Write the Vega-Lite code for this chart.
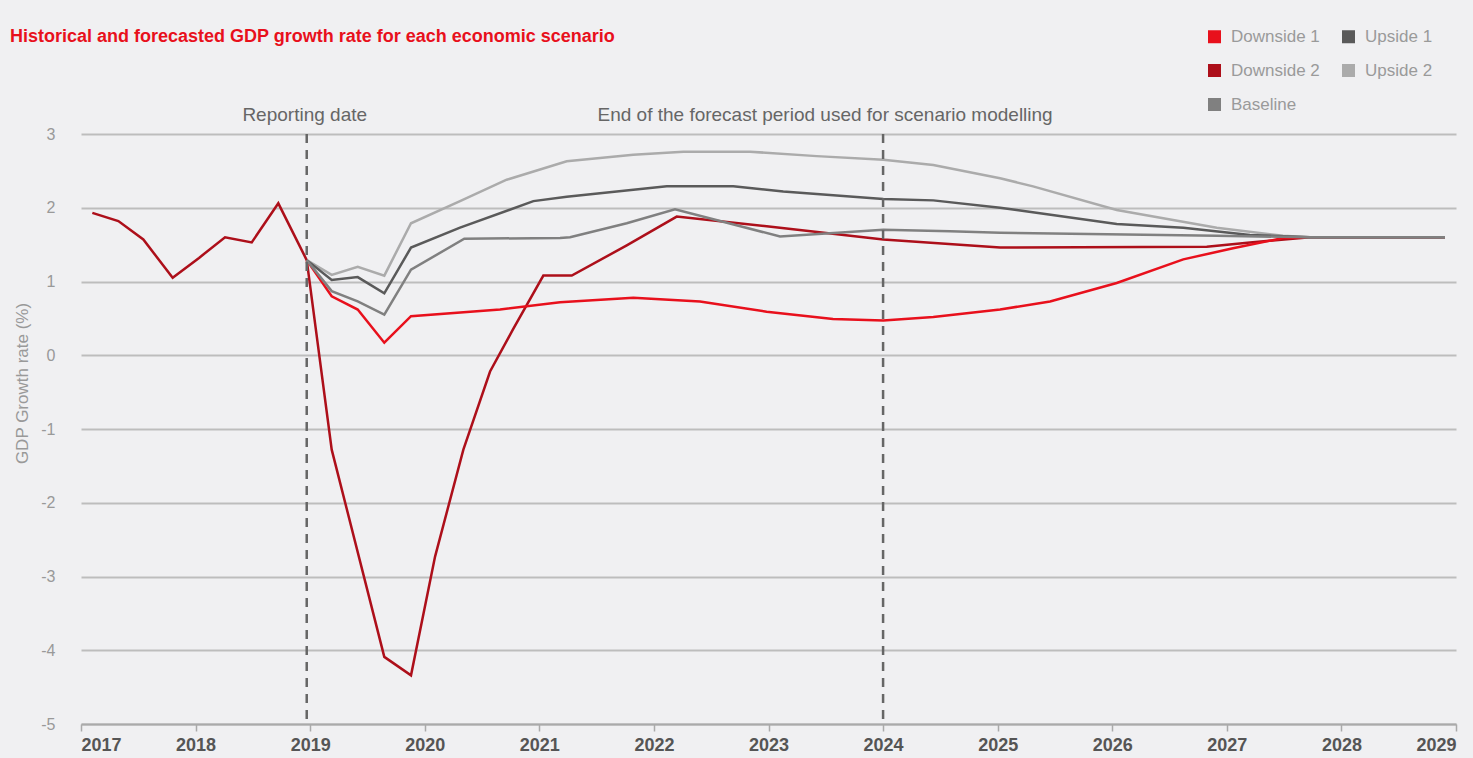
{
  "$schema": "https://vega.github.io/schema/vega-lite/v6.json",
  "autosize": "none",
  "width": 1375,
  "height": 590,
  "padding": {"left": 81, "top": 134, "right": 17, "bottom": 34},
  "background": "#f0f0f2",
  "title": {
    "text": "Historical and forecasted GDP growth rate for each economic scenario",
    "anchor": "start",
    "frame": "group",
    "dx": -71,
    "color": "#e8101c",
    "font": "Liberation Sans",
    "fontSize": 18,
    "fontWeight": "bold",
    "orient": "top",
    "offset": -18
  },
  "config": {
    "view": {"stroke": null},
    "font": "Liberation Sans"
  },
  "datasets": {
    "gdp": [
      {"scenario": "Downside 2", "year": 2017.099, "growth": 1.93},
      {"scenario": "Downside 2", "year": 2017.326, "growth": 1.82},
      {"scenario": "Downside 2", "year": 2017.544, "growth": 1.57},
      {"scenario": "Downside 2", "year": 2017.800, "growth": 1.05},
      {"scenario": "Downside 2", "year": 2018.030, "growth": 1.32},
      {"scenario": "Downside 2", "year": 2018.257, "growth": 1.60},
      {"scenario": "Downside 2", "year": 2018.490, "growth": 1.53},
      {"scenario": "Downside 2", "year": 2018.722, "growth": 2.06},
      {"scenario": "Downside 2", "year": 2018.970, "growth": 1.29},
      {"scenario": "Downside 2", "year": 2019.188, "growth": -1.28},
      {"scenario": "Downside 2", "year": 2019.647, "growth": -4.09},
      {"scenario": "Downside 2", "year": 2019.880, "growth": -4.34},
      {"scenario": "Downside 2", "year": 2020.090, "growth": -2.73},
      {"scenario": "Downside 2", "year": 2020.337, "growth": -1.28},
      {"scenario": "Downside 2", "year": 2020.570, "growth": -0.22},
      {"scenario": "Downside 2", "year": 2020.770, "growth": 0.35},
      {"scenario": "Downside 2", "year": 2021.035, "growth": 1.08},
      {"scenario": "Downside 2", "year": 2021.283, "growth": 1.08},
      {"scenario": "Downside 2", "year": 2021.763, "growth": 1.49},
      {"scenario": "Downside 2", "year": 2022.199, "growth": 1.88},
      {"scenario": "Downside 2", "year": 2022.984, "growth": 1.75},
      {"scenario": "Downside 2", "year": 2024.002, "growth": 1.57},
      {"scenario": "Downside 2", "year": 2025.021, "growth": 1.46},
      {"scenario": "Downside 2", "year": 2026.825, "growth": 1.47},
      {"scenario": "Downside 2", "year": 2027.202, "growth": 1.53},
      {"scenario": "Downside 2", "year": 2027.726, "growth": 1.60},
      {"scenario": "Downside 2", "year": 2028.904, "growth": 1.60},

      {"scenario": "Downside 1", "year": 2018.970, "growth": 1.29},
      {"scenario": "Downside 1", "year": 2019.188, "growth": 0.80},
      {"scenario": "Downside 1", "year": 2019.415, "growth": 0.62},
      {"scenario": "Downside 1", "year": 2019.647, "growth": 0.17},
      {"scenario": "Downside 1", "year": 2019.880, "growth": 0.53},
      {"scenario": "Downside 1", "year": 2020.657, "growth": 0.62},
      {"scenario": "Downside 1", "year": 2021.181, "growth": 0.72},
      {"scenario": "Downside 1", "year": 2021.820, "growth": 0.78},
      {"scenario": "Downside 1", "year": 2022.402, "growth": 0.73},
      {"scenario": "Downside 1", "year": 2022.984, "growth": 0.59},
      {"scenario": "Downside 1", "year": 2023.563, "growth": 0.49},
      {"scenario": "Downside 1", "year": 2024.002, "growth": 0.47},
      {"scenario": "Downside 1", "year": 2024.438, "growth": 0.52},
      {"scenario": "Downside 1", "year": 2025.021, "growth": 0.62},
      {"scenario": "Downside 1", "year": 2025.457, "growth": 0.73},
      {"scenario": "Downside 1", "year": 2026.039, "growth": 0.98},
      {"scenario": "Downside 1", "year": 2026.620, "growth": 1.30},
      {"scenario": "Downside 1", "year": 2027.054, "growth": 1.45},
      {"scenario": "Downside 1", "year": 2027.490, "growth": 1.59},
      {"scenario": "Downside 1", "year": 2027.726, "growth": 1.60},
      {"scenario": "Downside 1", "year": 2028.904, "growth": 1.60},

      {"scenario": "Upside 2", "year": 2018.970, "growth": 1.29},
      {"scenario": "Upside 2", "year": 2019.188, "growth": 1.09},
      {"scenario": "Upside 2", "year": 2019.415, "growth": 1.20},
      {"scenario": "Upside 2", "year": 2019.647, "growth": 1.08},
      {"scenario": "Upside 2", "year": 2019.880, "growth": 1.79},
      {"scenario": "Upside 2", "year": 2020.308, "growth": 2.09},
      {"scenario": "Upside 2", "year": 2020.715, "growth": 2.38},
      {"scenario": "Upside 2", "year": 2021.239, "growth": 2.63},
      {"scenario": "Upside 2", "year": 2021.820, "growth": 2.72},
      {"scenario": "Upside 2", "year": 2022.257, "growth": 2.76},
      {"scenario": "Upside 2", "year": 2022.839, "growth": 2.76},
      {"scenario": "Upside 2", "year": 2023.421, "growth": 2.70},
      {"scenario": "Upside 2", "year": 2024.002, "growth": 2.65},
      {"scenario": "Upside 2", "year": 2024.438, "growth": 2.58},
      {"scenario": "Upside 2", "year": 2025.021, "growth": 2.40},
      {"scenario": "Upside 2", "year": 2025.309, "growth": 2.29},
      {"scenario": "Upside 2", "year": 2026.039, "growth": 1.97},
      {"scenario": "Upside 2", "year": 2026.912, "growth": 1.73},
      {"scenario": "Upside 2", "year": 2027.490, "growth": 1.62},
      {"scenario": "Upside 2", "year": 2027.726, "growth": 1.60},
      {"scenario": "Upside 2", "year": 2028.904, "growth": 1.60},

      {"scenario": "Upside 1", "year": 2018.970, "growth": 1.29},
      {"scenario": "Upside 1", "year": 2019.188, "growth": 1.02},
      {"scenario": "Upside 1", "year": 2019.415, "growth": 1.06},
      {"scenario": "Upside 1", "year": 2019.647, "growth": 0.84},
      {"scenario": "Upside 1", "year": 2019.880, "growth": 1.46},
      {"scenario": "Upside 1", "year": 2020.308, "growth": 1.73},
      {"scenario": "Upside 1", "year": 2020.948, "growth": 2.09},
      {"scenario": "Upside 1", "year": 2021.239, "growth": 2.15},
      {"scenario": "Upside 1", "year": 2022.112, "growth": 2.29},
      {"scenario": "Upside 1", "year": 2022.693, "growth": 2.29},
      {"scenario": "Upside 1", "year": 2023.129, "growth": 2.22},
      {"scenario": "Upside 1", "year": 2024.002, "growth": 2.12},
      {"scenario": "Upside 1", "year": 2024.438, "growth": 2.10},
      {"scenario": "Upside 1", "year": 2025.021, "growth": 2.00},
      {"scenario": "Upside 1", "year": 2025.166, "growth": 1.97},
      {"scenario": "Upside 1", "year": 2026.039, "growth": 1.78},
      {"scenario": "Upside 1", "year": 2026.620, "growth": 1.73},
      {"scenario": "Upside 1", "year": 2027.202, "growth": 1.63},
      {"scenario": "Upside 1", "year": 2027.726, "growth": 1.60},
      {"scenario": "Upside 1", "year": 2028.904, "growth": 1.60},

      {"scenario": "Baseline", "year": 2018.970, "growth": 1.29},
      {"scenario": "Baseline", "year": 2019.188, "growth": 0.87},
      {"scenario": "Baseline", "year": 2019.415, "growth": 0.73},
      {"scenario": "Baseline", "year": 2019.647, "growth": 0.55},
      {"scenario": "Baseline", "year": 2019.880, "growth": 1.16},
      {"scenario": "Baseline", "year": 2020.345, "growth": 1.58},
      {"scenario": "Baseline", "year": 2021.181, "growth": 1.59},
      {"scenario": "Baseline", "year": 2021.268, "growth": 1.60},
      {"scenario": "Baseline", "year": 2021.763, "growth": 1.79},
      {"scenario": "Baseline", "year": 2022.184, "growth": 1.98},
      {"scenario": "Baseline", "year": 2023.101, "growth": 1.61},
      {"scenario": "Baseline", "year": 2024.002, "growth": 1.70},
      {"scenario": "Baseline", "year": 2024.584, "growth": 1.68},
      {"scenario": "Baseline", "year": 2025.021, "growth": 1.66},
      {"scenario": "Baseline", "year": 2026.912, "growth": 1.62},
      {"scenario": "Baseline", "year": 2027.726, "growth": 1.60},
      {"scenario": "Baseline", "year": 2028.904, "growth": 1.60}
    ],
    "events": [
      {"event": "Reporting date", "year": 2018.97},
      {"event": "End of the  forecast period used for scenario modelling", "year": 2024.0}
    ]
  },
  "layer": [
    {
      "data": {"name": "gdp"},
      "mark": {"type": "line", "strokeWidth": 2.5},
      "encoding": {
        "x": {
          "field": "year",
          "type": "quantitative",
          "scale": {"domain": [2017, 2029], "nice": false, "zero": false},
          "axis": {
            "title": null,
            "values": [2017, 2018, 2019, 2020, 2021, 2022, 2023, 2024, 2025, 2026, 2027, 2028, 2029],
            "format": "d",
            "grid": false,
            "labelFlush": true,
            "domainColor": "#aaaaaa",
            "domainWidth": 2,
            "tickColor": "#aaaaaa",
            "tickWidth": 1.5,
            "tickSize": 7,
            "labelFont": "Liberation Sans",
            "labelFontSize": 18,
            "labelFontWeight": "bold",
            "labelColor": "#555555",
            "labelPadding": 5
          }
        },
        "y": {
          "field": "growth",
          "type": "quantitative",
          "scale": {"domain": [-5, 3], "nice": false, "zero": false},
          "axis": {
            "title": "GDP Growth rate (%)",
            "values": [-5, -4, -3, -2, -1, 0, 1, 2, 3],
            "labelExpr": "'' + datum.value",
            "grid": true,
            "gridColor": "#bdbdbd",
            "gridWidth": 2,
            "domain": false,
            "ticks": false,
            "labelColor": "#999999",
            "labelFontSize": 16,
            "labelPadding": 26,
            "titleColor": "#999999",
            "titleFontSize": 17,
            "titleFontWeight": "normal",
            "titleX": -59,
            "titleY": 249,
            "titleAngle": -90,
            "titleAlign": "center",
            "titleBaseline": "middle"
          }
        },
        "color": {
          "field": "scenario",
          "type": "nominal",
          "scale": {
            "domain": ["Downside 1", "Downside 2", "Baseline", "Upside 1", "Upside 2"],
            "range": ["#e8101c", "#ad0f1a", "#808080", "#5a5a5a", "#ababab"]
          },
          "legend": {
            "orient": "none",
            "legendX": 1125,
            "legendY": -106,
            "columns": 2,
            "title": null,
            "symbolType": "square",
            "symbolSize": 169,
            "symbolStrokeWidth": 0,
            "labelFontSize": 17,
            "labelColor": "#9a9a9a",
            "labelOffset": 8,
            "rowPadding": 16,
            "columnPadding": 20,
            "encode": {
              "symbols": {
                "update": {
                  "fill": {"scale": "color", "field": "value"},
                  "fillOpacity": {"value": 1},
                  "strokeWidth": {"value": 0}
                }
              }
            }
          }
        },
        "order": {"field": "year", "type": "quantitative"}
      }
    },
    {
      "data": {"name": "events"},
      "mark": {"type": "rule", "color": "#666666", "strokeWidth": 2.5, "strokeDash": [9, 7]},
      "encoding": {
        "x": {"field": "year", "type": "quantitative"},
        "y": {"datum": 3},
        "y2": {"datum": -5}
      }
    },
    {
      "data": {"name": "events"},
      "transform": [{"filter": "datum.event == 'Reporting date'"}],
      "mark": {"type": "text", "fontSize": 19, "color": "#666666", "align": "center", "baseline": "middle", "dx": -2},
      "encoding": {
        "x": {"field": "year", "type": "quantitative"},
        "y": {"datum": 3.26},
        "text": {"field": "event"}
      }
    },
    {
      "data": {"name": "events"},
      "transform": [{"filter": "datum.event != 'Reporting date'"}],
      "mark": {"type": "text", "fontSize": 19, "color": "#666666", "align": "center", "baseline": "middle", "dx": -58},
      "encoding": {
        "x": {"field": "year", "type": "quantitative"},
        "y": {"datum": 3.26},
        "text": {"field": "event"}
      }
    }
  ]
}
